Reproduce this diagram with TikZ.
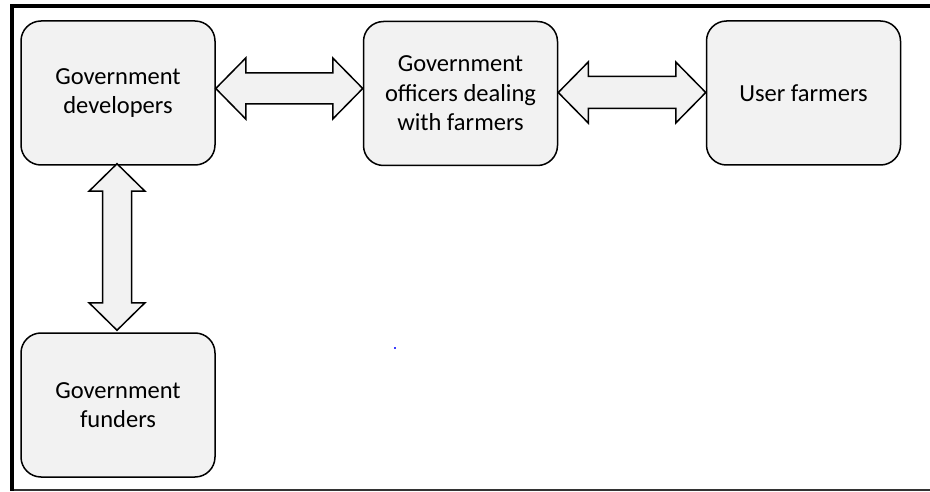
\documentclass[tikz,border=0pt]{standalone}
\usepackage{fontspec}
\setmainfont{Carlito}
\usetikzlibrary{calc}

\definecolor{boxfill}{HTML}{F2F2F2}
\definecolor{dotblue}{HTML}{3C3CFF}

% Horizontal two-headed block arrow between two tip points
% #1 left tip, #2 right tip, #3 head length, #4 head half-width, #5 shaft half-width
\newcommand{\hblock}[5]{%
  \draw[blockarrow] #1 -- ++(#3,-#4) -- ++(0,#4-#5)
    -- ($#2+(-#3,-#5)$) -- ++(0,#5-#4) -- #2
    -- ++(-#3,#4) -- ++(0,#5-#4)
    -- ($#1+(#3,#5)$) -- ++(0,#4-#5) -- cycle;}

% Vertical two-headed block arrow between two tip points
% #1 upper tip, #2 lower tip, #3 head length, #4 head half-width, #5 shaft half-width
\newcommand{\vblock}[5]{%
  \draw[blockarrow] #1 -- ++(#4,#3) -- ++(#5-#4,0)
    -- ($#2+(#5,-#3)$) -- ++(#4-#5,0) -- #2
    -- ++(-#4,-#3) -- ++(#4-#5,0)
    -- ($#1+(-#5,#3)$) -- ++(#5-#4,0) -- cycle;}

\tikzset{
  actor/.style={draw=black, line width=1.5pt, fill=boxfill,
    rounded corners=20pt, minimum width=194pt, minimum height=144pt,
    align=center, inner sep=4pt,
    font=\fontsize{24.5}{29.5}\selectfont},
  blockarrow/.style={draw=black, line width=1.5pt, fill=boxfill,
    line join=miter},
}

\begin{document}
\begin{tikzpicture}[x=1pt, y=-1pt]
  \useasboundingbox (0,0) rectangle (930,492);

  % outer frame
  \draw[line width=4pt, line join=miter] (930,6) -- (12,6) -- (12,491);
  \draw[line width=1.5pt, color=black!80] (14,490.2) -- (930,490.2);

  % stakeholders
  \node[actor] (dev)  at (118,93)     {Government\\developers};
  \node[actor] (off)  at (460.5,93.5) {Government\\officers dealing\\with farmers};
  \node[actor] (user) at (803.5,93)   {User farmers};
  \node[actor] (fund) at (118,405)    {Government\\funders};

  % two-way links
  \hblock{($(dev.east)+(0,-4.5)$)}{($(off.west)+(0,-5)$)}{30}{30.5}{15.5}
  \hblock{($(off.west -| off.east)+(0,-1)$)}{($(user.west)+(0,-0.5)$)}{30}{30.5}{16}
  \vblock{($(dev.south)+(-1,-2)$)}{($(fund.north)+(-1,-2)$)}{27.5}{28}{14.5}

  % stray mark
  \fill[dotblue] (394,347) rectangle (396,349);
\end{tikzpicture}
\end{document}
